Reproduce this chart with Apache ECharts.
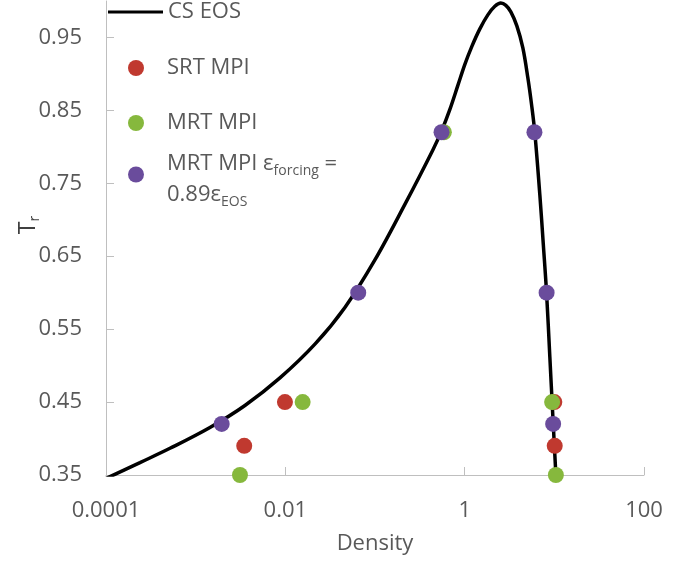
<!DOCTYPE html>
<html>
<head>
<meta charset="utf-8">
<script src="https://cdn.jsdelivr.net/npm/echarts@6/dist/echarts.min.js"></script>
<style>
  html, body { margin: 0; padding: 0; background: #ffffff; }
  #chart { width: 693px; height: 565px; }
</style>
</head>
<body>
<div id="chart"></div>
<script>
// Corresponding-states EOS coexistence curve (gas branch, critical point, liquid branch)
const eosDensity = [1.000e-4, 1.108e-4, 2.393e-4, 5.17e-4, 1.443e-3, 3.544e-3, 8.706e-3, 0.02138,
  0.04618, 0.09974, 0.2154, 0.4419, 0.5527, 0.6841, 0.8397, 1.005, 1.203, 1.477, 1.814, 2.171, 2.532,
  2.880, 3.274, 3.819, 4.456, 5.066, 5.614, 6.062, 6.893, 7.541, 8.187, 8.910, 9.622, 10.39, 10.80];
const eosTr = [0.3452, 0.3477, 0.3670, 0.3866, 0.4152, 0.4453, 0.4831, 0.5294,
  0.5798, 0.6449, 0.7211, 0.7958, 0.8219, 0.8514, 0.8843, 0.9131, 0.9378, 0.9618, 0.9810, 0.9927, 0.9971,
  0.9940, 0.9851, 0.9659, 0.9357, 0.8946, 0.8548, 0.8191, 0.7341, 0.6655, 0.6001, 0.5119, 0.4309, 0.3514, 0.3116];

// Simulation results
const srtDensity = [0.00348, 0.0099, 10.0, 10.1];
const srtTr = [0.39, 0.45, 0.45, 0.39];
const mrtDensity = [0.00312, 0.0156, 9.45, 10.4, 0.586];
const mrtTr = [0.35, 0.45, 0.45, 0.35, 0.82];
const mrtForcedDensity = [0.00195, 0.065, 0.552, 6.0, 8.2, 9.7];
const mrtForcedTr = [0.42, 0.60, 0.82, 0.82, 0.60, 0.42];

// Axis ticks
const xTicks = [0.0001, 0.01, 1, 100];
const yTicks = [0.35, 0.45, 0.55, 0.65, 0.75, 0.85, 0.95];

const FONT = 'Open Sans';
const FS = 22;
const TEXT = '#595959';
const AXIS = '#bfbfbf';

const pairs = (xs, ys) => xs.map((x, i) => [x, ys[i]]);

const chart = echarts.init(document.getElementById('chart'), null, { renderer: 'canvas' });

const legendText = (padLeft) => ({
  color: TEXT, fontFamily: FONT, fontSize: FS, lineHeight: 26, padding: [0, 0, 0, padLeft]
});

chart.setOption({
  backgroundColor: '#ffffff',
  animation: false,
  grid: { left: 106, right: 49, top: 1, bottom: 90, outerBoundsMode: 'none' },
  xAxis: {
    type: 'log',
    logBase: 100,
    min: xTicks[0],
    max: xTicks[xTicks.length - 1],
    name: 'Density',
    nameLocation: 'middle',
    nameGap: 58,
    nameMoveOverlap: false,
    nameTextStyle: { color: TEXT, fontFamily: FONT, fontSize: FS },
    axisLine: { lineStyle: { color: AXIS, width: 1 } },
    axisTick: { inside: true, length: 8, lineStyle: { color: AXIS } },
    axisLabel: {
      color: TEXT, fontFamily: FONT, fontSize: FS, margin: 25,
      formatter: v => String(Number(v.toPrecision(6)))
    },
    splitLine: { show: false },
    minorTick: { show: false }
  },
  yAxis: {
    type: 'value',
    min: 0.35,
    max: 1.0,
    name: '{t|T}{s|r}',
    nameLocation: 'middle',
    nameGap: 64,
    nameMoveOverlap: false,
    nameTextStyle: {
      padding: [0, 0, 0, 26],
      rich: {
        t: { color: '#404040', fontFamily: FONT, fontSize: 23, lineHeight: 28 },
        s: { color: '#404040', fontFamily: FONT, fontSize: 14, lineHeight: 14, padding: [14, 0, 0, 0] }
      }
    },
    axisLine: { show: true, lineStyle: { color: AXIS, width: 1 } },
    axisTick: { show: true, inside: true, length: 8, lineStyle: { color: AXIS }, customValues: yTicks },
    axisLabel: {
      color: TEXT, fontFamily: FONT, fontSize: FS, margin: 24,
      customValues: yTicks,
      formatter: v => v.toFixed(2)
    },
    splitLine: { show: false }
  },
  legend: [
    {
      orient: 'vertical', left: 108, top: -1, padding: 0, itemWidth: 55, itemHeight: 3, icon: 'rect',
      textStyle: legendText(0), data: ['CS EOS']
    },
    {
      orient: 'vertical', left: 128, top: 55, padding: 0, itemWidth: 16, itemHeight: 16, icon: 'circle',
      textStyle: legendText(18), data: ['SRT MPI']
    },
    {
      orient: 'vertical', left: 128, top: 110, padding: 0, itemWidth: 16, itemHeight: 16, icon: 'circle',
      textStyle: legendText(18), data: ['MRT MPI']
    },
    {
      orient: 'vertical', left: 128, top: 150, padding: 0, itemWidth: 16, itemHeight: 16, icon: 'circle',
      formatter: () => '{n|MRT MPI ε}{s|forcing}{n| =}\n{n|0.89ε}{s|EOS}',
      textStyle: {
        color: TEXT, fontFamily: FONT, fontSize: FS, padding: [10, 0, 0, 18],
        rich: {
          n: { color: TEXT, fontFamily: FONT, fontSize: FS, lineHeight: 31 },
          s: { color: TEXT, fontFamily: FONT, fontSize: 14, lineHeight: 16, padding: [14, 0, 0, 0] }
        }
      },
      data: ['MRT MPI εforcing = 0.89εEOS']
    }
  ],
  series: [
    {
      name: 'CS EOS',
      type: 'line',
      data: pairs(eosDensity, eosTr),
      showSymbol: false,
      symbol: 'none',
      smooth: 0.35,
      lineStyle: { color: '#000000', width: 3.5 },
      itemStyle: { color: '#000000' },
      z: 1
    },
    {
      name: 'SRT MPI',
      type: 'scatter',
      data: pairs(srtDensity, srtTr),
      symbolSize: 16,
      clip: false,
      itemStyle: { color: '#c0392f', opacity: 1 },
      z: 2
    },
    {
      name: 'MRT MPI',
      type: 'scatter',
      data: pairs(mrtDensity, mrtTr),
      symbolSize: 16,
      clip: false,
      itemStyle: { color: '#86b83d', opacity: 1 },
      z: 3
    },
    {
      name: 'MRT MPI εforcing = 0.89εEOS',
      type: 'scatter',
      data: pairs(mrtForcedDensity, mrtForcedTr),
      symbolSize: 16,
      clip: false,
      itemStyle: { color: '#6a4c9c', opacity: 1 },
      z: 4
    }
  ]
});
</script>
</body>
</html>
